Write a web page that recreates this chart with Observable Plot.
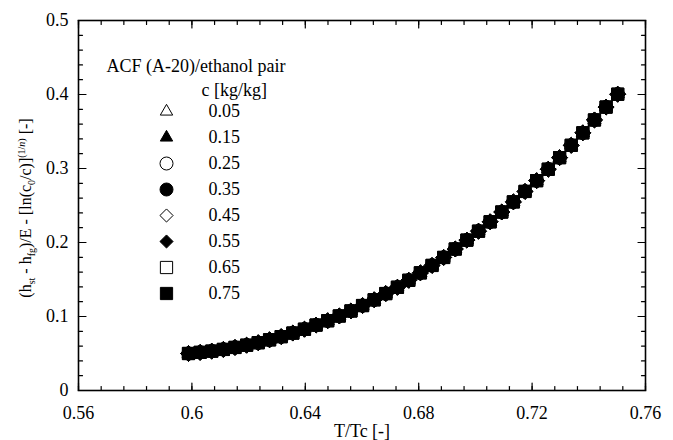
<!DOCTYPE html>
<html><head><meta charset="utf-8">
<script src="https://cdn.jsdelivr.net/npm/d3@7"></script>
<script src="https://cdn.jsdelivr.net/npm/@observablehq/plot@0.6"></script>
<style>body{margin:0;background:#fff} #chart svg{display:block}</style>
</head><body><div id="chart"></div>
<script>
// ---- data ----
const legendTitle = "ACF (A-20)/ethanol pair";
const legendSubtitle = "c [kg/kg]";
const concentrations = ["0.05","0.15","0.25","0.35","0.45","0.55","0.65","0.75"];
// all concentrations collapse onto one characteristic curve
const tRatio = [0.5988,0.6029,0.6070,0.6111,0.6152,0.6193,0.6234,0.6274,0.6315,0.6356,
  0.6397,0.6438,0.6479,0.6520,0.6561,0.6602,0.6643,0.6684,0.6725,0.6765,
  0.6806,0.6847,0.6888,0.6929,0.6970,0.7011,0.7052,0.7093,0.7134,0.7175,
  0.7216,0.7257,0.7297,0.7338,0.7379,0.7420,0.7461,0.7502];
const yValue = [0.0500,0.0515,0.0532,0.0555,0.0582,0.0612,0.0646,0.0685,0.0728,0.0776,
  0.0828,0.0884,0.0943,0.1007,0.1075,0.1148,0.1226,0.1310,0.1395,0.1489,
  0.1590,0.1690,0.1798,0.1912,0.2032,0.2153,0.2280,0.2412,0.2549,0.2690,
  0.2836,0.2990,0.3147,0.3313,0.3482,0.3656,0.3830,0.4004];
const xTicks = [0.56,0.60,0.64,0.68,0.72,0.76];
const xTickLabels = ["0.56","0.6","0.64","0.68","0.72","0.76"];
const yTicks = [0,0.1,0.2,0.3,0.4,0.5];
const yTickLabels = ["0","0.1","0.2","0.3","0.4","0.5"];
const xLabel = "T/Tc [-]";

// ---- styling ----
const FONT = "'Liberation Serif','Times New Roman',Times,serif";
const xMinor = d3.range(0, 26).map(i => 0.56 + i * 0.008);
const yMinor = d3.range(0, 26).map(i => i * 0.02);
const markerStyles = [
  {symbol: "triangle", r: 4.6, rp: 4.8, fill: "white"},
  {symbol: "triangle", r: 4.6, rp: 4.8, fill: "black"},
  {symbol: "circle",   r: 6.5, rp: 6.5, fill: "white"},
  {symbol: "circle",   r: 6.5, rp: 6.5, fill: "black"},
  {symbol: "diamond2", r: 5.9, rp: 7.2, fill: "white"},
  {symbol: "diamond2", r: 5.9, rp: 7.2, fill: "black"},
  {symbol: "square",   r: 6.9, rp: 6.9, fill: "white"},
  {symbol: "square",   r: 6.9, rp: 6.9, fill: "black"}
];
const points = tRatio.map((t, i) => ({t, y: yValue[i]}));
const tickShape = {draw(ctx, l) { ctx.moveTo(0, 0); ctx.lineTo(0, -l); }};
const tickMarks = (vals, len, side) => {
  const o = {stroke: "black", strokeWidth: 1.2, length: len, shape: tickShape, anchor: "start"};
  if (side === "bottom") return Plot.vector(vals, {...o, x: d => d, y: () => 0, rotate: 0});
  if (side === "top") return Plot.vector(vals, {...o, x: d => d, y: () => 0.5, rotate: 180});
  if (side === "left") return Plot.vector(vals, {...o, x: () => 0.56, y: d => d, rotate: 90});
  return Plot.vector(vals, {...o, x: () => 0.76, y: d => d, rotate: 270});
};

const marks = [];
for (const side of ["bottom","top"]) { marks.push(tickMarks(xMinor, 4, side), tickMarks(xTicks, 7.5, side)); }
for (const side of ["left","right"]) { marks.push(tickMarks(yMinor, 4, side), tickMarks(yTicks, 7.5, side)); }
marks.push(Plot.frame({stroke: "black", strokeWidth: 1.6}));
marks.push(Plot.text(xTicks, {x: d => d, y: () => 0, text: (d, i) => xTickLabels[i], dy: 28, lineAnchor: "bottom", textAnchor: "middle", fontSize: 18, fill: "black"}));
marks.push(Plot.text(yTicks, {x: () => 0.56, y: d => d, text: (d, i) => yTickLabels[i], dx: -10, lineAnchor: "middle", textAnchor: "end", fontSize: 18, fill: "black"}));
marks.push(Plot.text([xLabel], {frameAnchor: "bottom", dy: 46, lineAnchor: "bottom", fontSize: 18, fill: "black"}));
// data markers: all series
concentrations.forEach((c, k) => {
  const s = markerStyles[k];
  marks.push(Plot.dot(points, {x: "t", y: "y", symbol: s.symbol, r: s.rp, fill: s.fill, stroke: "black", strokeWidth: 1}));
});
// legend
marks.push(Plot.text([legendTitle], {frameAnchor: "top-left", dx: 28, dy: 51, lineAnchor: "bottom", textAnchor: "start", fontSize: 18, fill: "black"}));
marks.push(Plot.text([legendSubtitle], {frameAnchor: "top-left", dx: 123, dy: 75, lineAnchor: "bottom", textAnchor: "start", fontSize: 18, fill: "black"}));
concentrations.forEach((c, k) => {
  const s = markerStyles[k];
  marks.push(Plot.dot([c], {frameAnchor: "top-left", dx: 88, dy: 91 + 26 * k, symbol: s.symbol, r: s.r, fill: s.fill, stroke: "black", strokeWidth: 1}));
  marks.push(Plot.text([c], {frameAnchor: "top-left", dx: 130, dy: 91 + 26 * k, lineAnchor: "middle", textAnchor: "start", fontSize: 18, fill: "black"}));
});

const svg = Plot.plot({
  width: 673, height: 440,
  marginLeft: 78, marginRight: 28, marginTop: 20, marginBottom: 50,
  x: {domain: [0.56, 0.76], axis: null},
  y: {domain: [0, 0.5], axis: null},
  style: {fontFamily: FONT, fontSize: "18px", background: "white", color: "black"},
  marks
});

// y-axis label with sub/superscripts
const lbl = d3.select(svg).append("text")
  .attr("transform", "translate(31,208) rotate(-90)")
  .attr("text-anchor", "middle")
  .attr("font-family", FONT).attr("font-size", 16).attr("fill", "black");
const parts = [
  ["(h"], ["st", "sub"], [" - h"], ["fg", "sub"], [")/E - [ln(c"], ["0", "sub"], ["/c)]"],
  ["(1/", "sup"], ["n", "supi"], [")", "sup"], [" [-]"]
];
let shift = 0;
for (const [t, kind] of parts) {
  const ts = lbl.append("tspan").text(t);
  let target = 0;
  if (kind === "sub") { target = 4; ts.attr("font-size", 10); }
  if (kind === "sup" || kind === "supi") { target = -6; ts.attr("font-size", 10); }
  if (kind === "supi") ts.attr("font-style", "italic");
  if (target !== shift) { ts.attr("dy", target - shift); shift = target; }
}
document.getElementById("chart").appendChild(svg);
</script>
</body></html>
